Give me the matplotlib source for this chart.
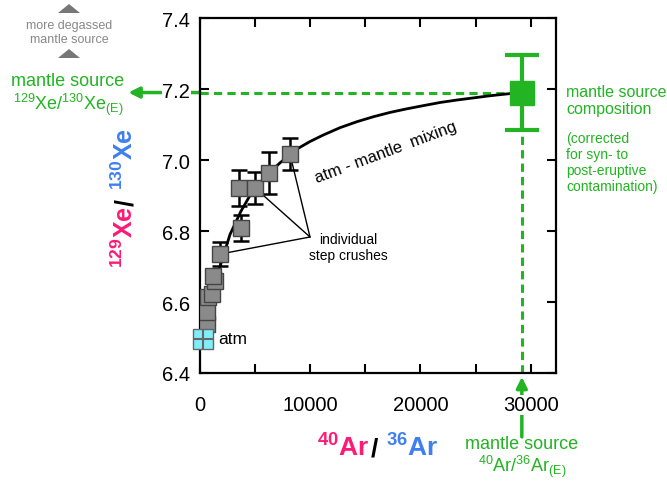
import matplotlib
matplotlib.use('Agg')
import matplotlib.pyplot as plt
from matplotlib.patches import Polygon

plt.rcParams['font.family'] = ['Liberation Sans', 'DejaVu Sans']
plt.rcParams['mathtext.fontset'] = 'custom'
plt.rcParams['mathtext.rm'] = 'Liberation Sans'
plt.rcParams['mathtext.it'] = 'Liberation Sans:italic'
plt.rcParams['mathtext.bf'] = 'Liberation Sans:bold'

# step crush data: 40Ar/36Ar, 129Xe/130Xe, 1-sigma
step_ar = [635, 650, 730, 1090, 1360, 1180, 1810, 3720, 3540, 5000, 6260, 8160]
step_xe = [6.538, 6.572, 6.614, 6.623, 6.659, 6.673, 6.735, 6.808, 6.921, 6.921, 6.963, 7.017]
step_err = [0, 0, 0, 0, 0, 0, 0.033, 0.037, 0.05, 0.045, 0.06, 0.045]

atm_ar, atm_xe = 298.6, 6.496
mantle_ar, mantle_xe, mantle_err = 29200, 7.19, 0.105

# atm - mantle mixing curve
mix_ar = [270, 635, 1000, 1360, 2000, 2720, 3720, 4720, 6080, 7260, 8800, 9980,
          11160, 12700, 14250, 15750, 17240, 18740, 20240, 21780, 23320, 24820,
          26320, 27200, 28130, 29200]
mix_xe = [6.501, 6.558, 6.612, 6.655, 6.718, 6.790, 6.856, 6.910, 6.958, 6.992, 7.031, 7.052,
          7.070, 7.091, 7.108, 7.122, 7.134, 7.144, 7.153, 7.162, 7.169, 7.175,
          7.181, 7.184, 7.187, 7.190]

xticks = [0, 10000, 20000, 30000]
yticks = [6.4, 6.6, 6.8, 7.0, 7.2, 7.4]

green = '#22b422'
pink = '#ff1a75'
blue = '#3f7ff0'

W, H = 667, 485


def px(x, y):
    return x / W, 1 - y / H


fig = plt.figure(figsize=(W / 100, H / 100), dpi=100)
ax = fig.add_axes([200 / W, 1 - 374 / H, 356 / W, 355 / H])

ax.plot(mix_ar, mix_xe, color='black', lw=2, zorder=3)

ax.errorbar(step_ar, step_xe, yerr=step_err, fmt='none', ecolor='black',
            elinewidth=1.8, capsize=6, capthick=1.8, zorder=3)
ax.plot(step_ar, step_xe, 's', ms=11.5, mfc='#8a8a8a', mec='#444444', mew=1, zorder=4)

ax.plot(atm_ar, atm_xe, 's', ms=14, mfc='#80eefa', mec='#666666', mew=1,
        zorder=5, clip_on=False)
ax.plot(atm_ar, atm_xe, '+', ms=14, mec='#666666', mew=1.5, zorder=6, clip_on=False)

# mantle source guide lines
ax.plot([0, mantle_ar], [mantle_xe, mantle_xe], color=green, lw=2.2,
        ls=(0, (2.7, 1.7)), zorder=2)
ax.plot([mantle_ar, mantle_ar], [6.4, mantle_xe], color=green, lw=2.2,
        ls=(0, (2.7, 1.7)), zorder=2)
ax.errorbar([mantle_ar], [mantle_xe], yerr=[mantle_err], fmt='s', ms=17,
            color=green, elinewidth=3, capsize=12, capthick=3, zorder=5)

ax.annotate('', xy=(-6500, mantle_xe), xytext=(0, mantle_xe),
            arrowprops=dict(arrowstyle='-|>', color=green, lw=2.5,
                            mutation_scale=16, shrinkA=0, shrinkB=0),
            annotation_clip=False, zorder=1)
ax.annotate('', xy=(mantle_ar, 6.389), xytext=(mantle_ar, 6.22),
            arrowprops=dict(arrowstyle='-|>', color=green, lw=2.5,
                            mutation_scale=16, shrinkA=0, shrinkB=0),
            annotation_clip=False, zorder=1)

# individual step crush pointers
for i in [6, 9, 11]:
    ax.annotate('', xy=(step_ar[i], step_xe[i]), xytext=px(310, 238),
                textcoords='figure fraction',
                arrowprops=dict(arrowstyle='-', color='black', lw=1,
                                shrinkA=0, shrinkB=0), zorder=2)

ax.set_xlim(0, 32300)
ax.set_ylim(6.4, 7.4)
ax.set_xticks(xticks)
ax.set_xticks(range(0, 32300, 5000), minor=True)
ax.set_yticks(yticks)
ax.set_xticklabels([str(v) for v in xticks])
ax.set_yticklabels(['%.1f' % v for v in yticks])
ax.tick_params(axis='both', which='both', direction='in', length=6.5, width=1.5,
               top=True, right=True, labelsize=14.5, colors='black')
ax.tick_params(axis='x', pad=16)
ax.tick_params(axis='y', pad=7)
for s in ax.spines.values():
    s.set_linewidth(1.6)
for lab in ax.get_xticklabels() + ax.get_yticklabels():
    lab.set_bbox(dict(facecolor='white', edgecolor='none', pad=0.5))

# text inside the plot
fig.text(*px(218, 340), 'atm', fontsize=12.5, ha='left', va='center')
fig.text(*px(386, 153), 'atm - mantle  mixing', fontsize=12, rotation=20.5,
         rotation_mode='anchor', ha='center', va='center')
fig.text(*px(348, 248), 'individual\nstep crushes', fontsize=10, ha='center',
         va='center', linespacing=1.25)

# axis labels
fig.text(*px(133, 206), r'$\mathbf{^{129}Xe}$', color=pink, fontsize=18,
         rotation=90, rotation_mode='anchor', ha='right', va='baseline')
fig.text(*px(133, 207), r'$\mathbf{/}$', color='black', fontsize=18,
         rotation=90, rotation_mode='anchor', ha='left', va='baseline')
fig.text(*px(133, 190), r'$\mathbf{^{130}Xe}$', color=blue, fontsize=18,
         rotation=90, rotation_mode='anchor', ha='left', va='baseline')

fig.text(*px(369, 457), r'$\mathbf{^{40}Ar}$', color=pink, fontsize=19,
         ha='right', va='baseline')
fig.text(*px(370, 457), r'$\mathbf{/}$', color='black', fontsize=19,
         ha='left', va='baseline')
fig.text(*px(386, 457), r'$\mathbf{^{36}Ar}$', color=blue, fontsize=19,
         ha='left', va='baseline')

# mantle source labels
fig.text(*px(68, 82), 'mantle source', color=green, fontsize=13,
         ha='center', va='center')
fig.text(*px(68, 105), r'$^{129}$Xe/$^{130}$Xe$_{\mathrm{(E)}}$', color=green,
         fontsize=13, ha='center', va='center')
fig.text(*px(522, 445), 'mantle source', color=green, fontsize=13,
         ha='center', va='center')
fig.text(*px(522, 467), r'$^{40}$Ar/$^{36}$Ar$_{\mathrm{(E)}}$', color=green,
         fontsize=13, ha='center', va='center')
fig.text(*px(566, 101), 'mantle source\ncomposition', color=green, fontsize=11.5,
         ha='left', va='center', linespacing=1.15)
fig.text(*px(566, 163), '(corrected\nfor syn- to\npost-eruptive\ncontamination)',
         color=green, fontsize=10, ha='left', va='center', linespacing=1.2)

# degassing hint
fig.text(*px(69, 33), 'more degassed\nmantle source', color='#888888', fontsize=9,
         ha='center', va='center', linespacing=1.25)
for ty in [5, 50]:
    tri = Polygon([px(58, ty + 9), px(80, ty + 9), px(69, ty)], closed=True,
                  transform=fig.transFigure, facecolor='#777777', edgecolor='none')
    fig.patches.append(tri)

fig.savefig('out.png', dpi=100)
